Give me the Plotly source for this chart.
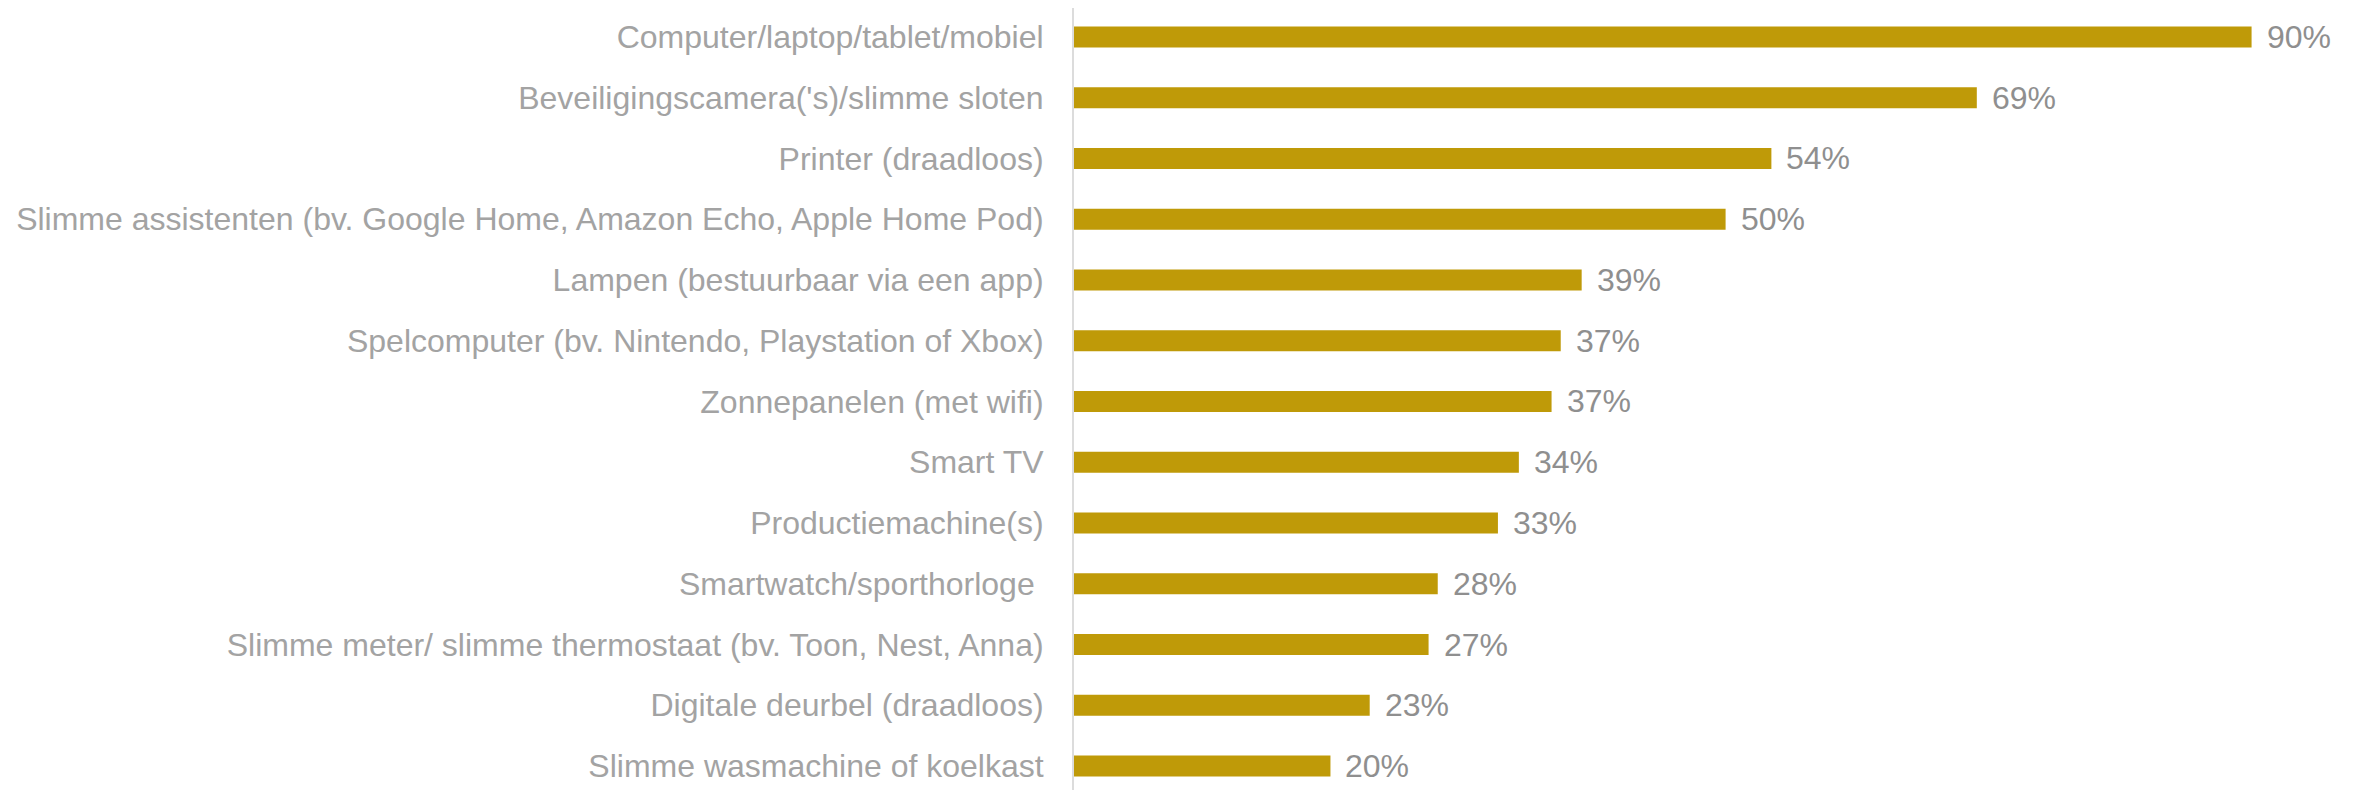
import plotly.graph_objects as go

categories = [
    "Computer/laptop/tablet/mobiel",
    "Beveiligingscamera('s)/slimme sloten",
    "Printer (draadloos)",
    "Slimme assistenten (bv. Google Home, Amazon Echo, Apple Home Pod)",
    "Lampen (bestuurbaar via een app)",
    "Spelcomputer (bv. Nintendo, Playstation of Xbox)",
    "Zonnepanelen (met wifi)",
    "Smart TV",
    "Productiemachine(s)",
    "Smartwatch/sporthorloge ",
    "Slimme meter/ slimme thermostaat (bv. Toon, Nest, Anna)",
    "Digitale deurbel (draadloos)",
    "Slimme wasmachine of koelkast",
]
values = [90.0, 69.0, 53.3, 49.8, 38.8, 37.2, 36.5, 34.0, 32.4, 27.8, 27.1, 22.6, 19.6]
value_labels = ["90%", "69%", "54%", "50%", "39%", "37%", "37%", "34%", "33%", "28%", "27%", "23%", "20%"]

BAR_COLOR = "#BF9A08"
CAT_COLOR = "#A3A3A3"
VAL_COLOR = "#8F8F8F"
FONT = "Liberation Sans, Arial, sans-serif"

fig = go.Figure(
    go.Bar(
        x=values,
        y=categories,
        orientation="h",
        marker=dict(color=BAR_COLOR, line=dict(width=0)),
        width=0.346,
        hoverinfo="skip",
    )
)

for cat, v, lab in zip(categories, values, value_labels):
    fig.add_annotation(
        x=v, y=cat, text=lab, showarrow=False,
        xanchor="left", yanchor="middle", xshift=13,
        font=dict(family=FONT, size=32, color=VAL_COLOR),
    )

fig.update_layout(
    width=2354, height=782,
    margin=dict(l=1066, r=45, t=0, b=0),
    paper_bgcolor="white", plot_bgcolor="white",
    showlegend=False,
    font=dict(family=FONT, size=32, color=CAT_COLOR),
    xaxis=dict(range=[0, 95], visible=False, showgrid=False, zeroline=False),
    yaxis=dict(
        type="category",
        categoryorder="array", categoryarray=categories,
        range=[12.395, -0.477],
        showline=True, linecolor="#DCDCDC", linewidth=2,
        showgrid=False, zeroline=False, automargin=False,
        ticks="", ticklabelstandoff=22,
        tickfont=dict(family=FONT, size=32, color=CAT_COLOR),
    ),
)

fig.write_html("out.html")
